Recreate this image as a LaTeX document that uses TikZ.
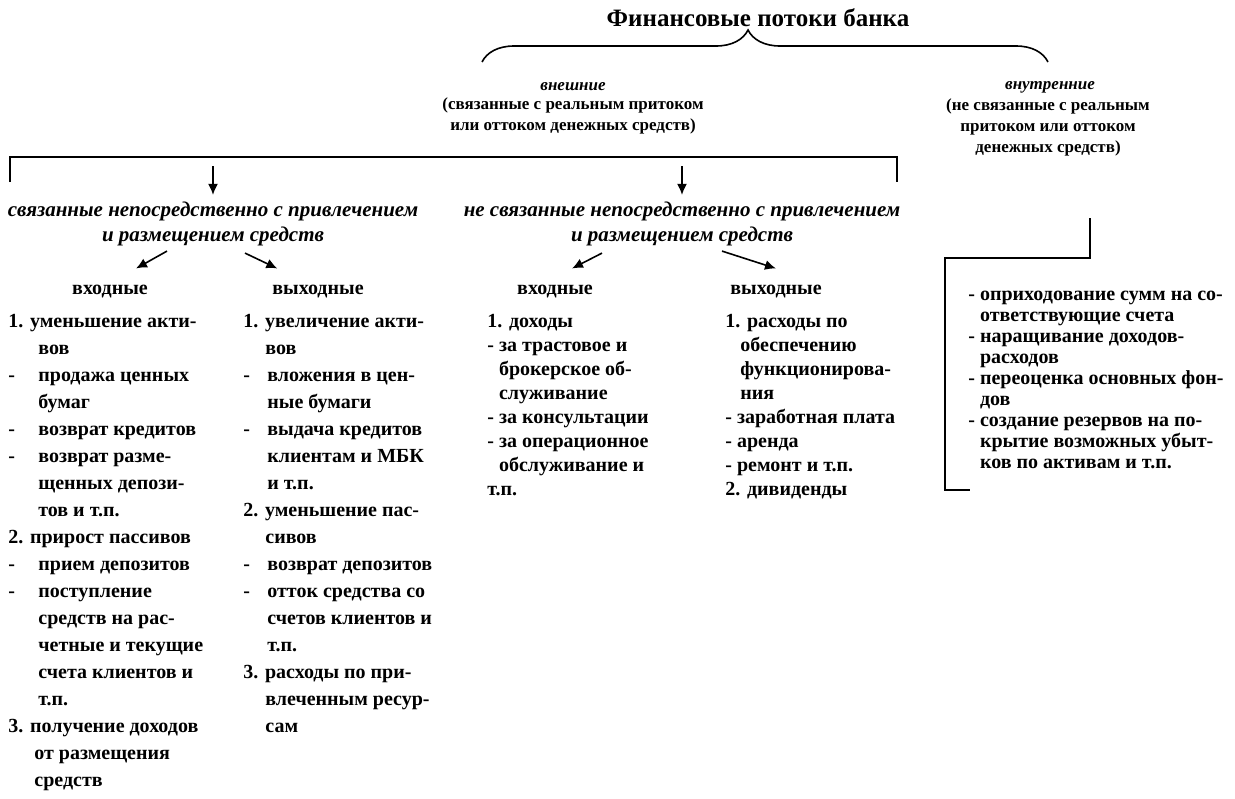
\documentclass[tikz,border=0pt]{standalone}
\usepackage{fontspec}
\setmainfont{Liberation Serif}[
    UprightFont={Liberation Serif},
    BoldFont={Liberation Serif Bold},
    ItalicFont={Liberation Serif Italic},
    BoldItalicFont={Liberation Serif Bold Italic}]
\usetikzlibrary{arrows.meta, positioning, decorations.pathreplacing, calc}

\newcommand{\mk}[2][15pt]{\makebox[#1][l]{#2}}

\begin{document}
\begin{tikzpicture}[
    x=0.5pt, y=-0.5pt,
    title/.style={font=\bfseries\fontsize{12.5}{15}\selectfont},
    kind/.style={font=\bfseries\itshape\fontsize{8.5}{10}\selectfont},
    note/.style={font=\bfseries\fontsize{8.5}{10.5}\selectfont, align=center},
    group/.style={font=\bfseries\itshape\fontsize{10.5}{12.5}\selectfont, align=center},
    flow/.style={font=\bfseries\fontsize{10}{12}\selectfont},
    items/.style={font=\bfseries\fontsize{10}{#1}\selectfont, align=left, anchor=north west, inner sep=0pt},
    items/.default=13.5,
    link/.style={line width=0.8pt},
    arrow/.style={line width=0.8pt, -{Latex[length=5.5pt,width=5pt]}}
]
\useasboundingbox (0,0) rectangle (1235,798);

% Title and brace
\node[title] (bank) at (758,18) {Финансовые потоки банка};
\coordinate (braceL) at (482,62);
\coordinate (braceR) at (1048,62);
\draw[link, decorate, decoration={brace, amplitude=16pt, aspect=0.47}] (braceL) -- (braceR);

% External / internal flows
\node[kind] (ext) at (573,87) {внешние};
\node[note] (extnote) at (573,116) {(связанные с реальным притоком\\или оттоком денежных средств)};
\node[kind] (int) at (1050,87) {внутренние};
\node[note] (intnote) at (1048,127) {(не связанные с реальным\\притоком или оттоком\\денежных средств)};

% Bracket over the external groups
\coordinate (brL) at (10,157);
\coordinate (brR) at (897,157);
\draw[link] ($(brL)+(0,25)$) -- (brL) -- (brR) -- ($(brR)+(0,25)$);

\node[group] (direct) at (213,224) {связанные непосредственно с привлечением\\и размещением средств};
\node[group] (indirect) at (682,224) {не связанные непосредственно с привлечением\\и размещением средств};
\draw[arrow] ($(direct.north |- brL)+(0,9)$) -- (direct.north);
\draw[arrow] ($(indirect.north |- brL)+(0,9)$) -- (indirect.north);

\node[flow] (in1) at (110,292) {входные};
\node[flow] (out1) at (318,292) {выходные};
\node[flow] (in2) at (555,292) {входные};
\node[flow] (out2) at (776,292) {выходные};

\draw[arrow] ($(direct.south)+(-46,-2)$) -- ($(in1.north)+(26,-10)$);
\draw[arrow] ($(direct.south)+(32,0)$) -- ($(out1.north west)+(12,-10)$);
\draw[arrow] ($(indirect.south)+(-80,0)$) -- ($(in2.north)+(17,-10)$);
\draw[arrow] ($(indirect.south)+(40,-2)$) -- ($(out2.north)+(0,-10)$);

% Lists
\node[items] (in1list) at (8,314) {1. уменьшение акти-\\
\mk{}вов\\
\mk{-}продажа ценных\\
\mk{}бумаг\\
\mk{-}возврат кредитов\\
\mk{-}возврат разме-\\
\mk{}щенных депози-\\
\mk{}тов и т.п.\\
2. прирост пассивов\\
\mk{-}прием депозитов\\
\mk{-}поступление\\
\mk{}средств на рас-\\
\mk{}четные и текущие\\
\mk{}счета клиентов и\\
\mk{}т.п.\\
3. получение доходов\\
\mk[13pt]{}от размещения\\
\mk[13pt]{}средств};

\node[items] (out1list) at (243,314) {1. увеличение акти-\\
\mk[11pt]{}вов\\
\mk[12pt]{-}вложения в цен-\\
\mk[12pt]{}ные бумаги\\
\mk[12pt]{-}выдача кредитов\\
\mk[12pt]{}клиентам и МБК\\
\mk[12pt]{}и т.п.\\
2. уменьшение пас-\\
\mk[11pt]{}сивов\\
\mk[12pt]{-}возврат депозитов\\
\mk[12pt]{-}отток средства со\\
\mk[12pt]{}счетов клиентов и\\
\mk[12pt]{}т.п.\\
3. расходы по при-\\
\mk[11pt]{}влеченным ресур-\\
\mk[11pt]{}сам};

\node[items=12] (in2list) at (487,314) {1. доходы\\
- за трастовое и\\
\phantom{- }брокерское об-\\
\phantom{- }служивание\\
- за консультации\\
- за операционное\\
\phantom{- }обслуживание и\\
т.п.};

\node[items=12] (out2list) at (725,314) {1. расходы по\\
\phantom{1.}обеспечению\\
\phantom{1.}функционирова-\\
\phantom{1.}ния\\
- заработная плата\\
- аренда\\
- ремонт и т.п.\\
2. дивиденды};

% Internal flows box
\coordinate (boxN) at (1090,218);
\coordinate (boxNE) at (1090,258);
\coordinate (boxNW) at (945,258);
\coordinate (boxSW) at (945,490);
\coordinate (boxS) at (970,490);
\draw[link] (boxN) -- (boxNE) -- (boxNW) -- (boxSW) -- (boxS);

\node[items=10.5] (intlist) at (968,291) {- оприходование сумм на со-\\
\phantom{- }ответствующие счета\\
- наращивание доходов-\\
\phantom{- }расходов\\
- переоценка основных фон-\\
\phantom{- }дов\\
- создание резервов на по-\\
\phantom{- }крытие возможных убыт-\\
\phantom{- }ков по активам и т.п.};

\end{tikzpicture}
\end{document}
